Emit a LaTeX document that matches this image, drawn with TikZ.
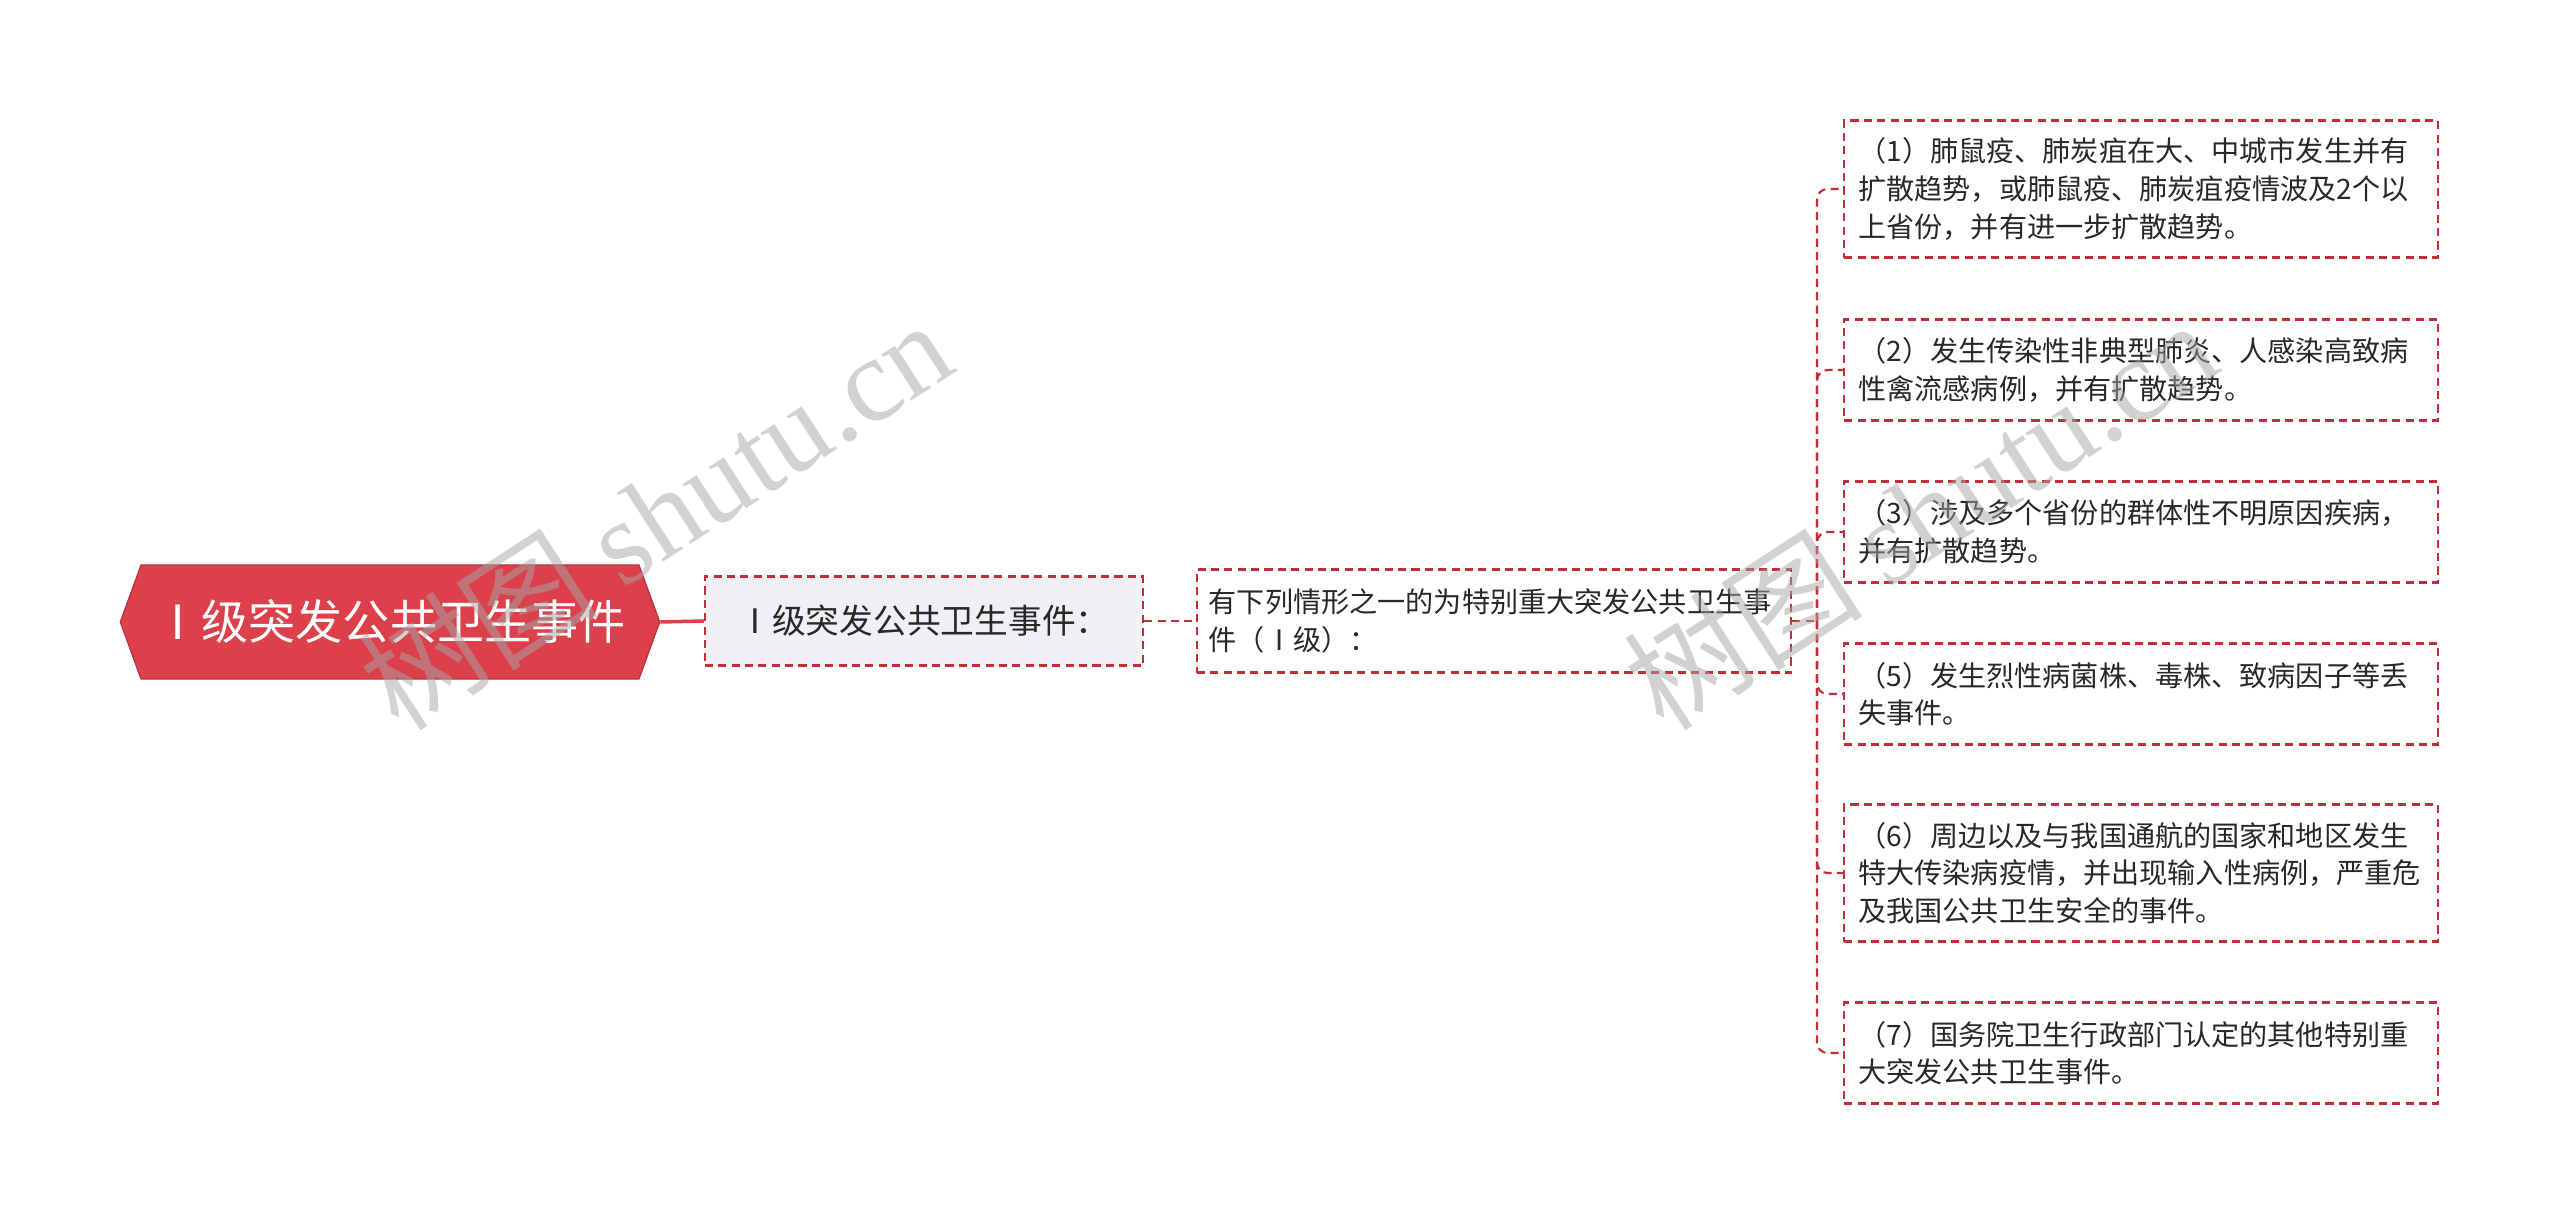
\documentclass[tikz,border=0pt]{standalone}
\usepackage{fontspec}
\setmainfont{Noto Sans CJK SC}
\newfontfamily\wmfont{Liberation Serif}
\usetikzlibrary{shapes.symbols}
\definecolor{rootred}{RGB}{220,65,75}
\definecolor{dashred}{RGB}{195,45,55}
\definecolor{subgray}{RGB}{238,240,244}
\definecolor{ink}{RGB}{40,40,40}
\definecolor{wmgray}{RGB}{165,165,165}
\tikzset{%
    dashy/.style={line width=0.6pt, dash pattern=on 2.3pt off 1.5pt},
    rootbox/.style={signal, signal to=west and east, signal pointer angle=140,
        fill=rootred, draw=rootred!85!black, text=white, inner sep=0pt,
        minimum width=5.39cm, minimum height=1.14cm,
        font=\fontsize{13.4pt}{16pt}\selectfont},
    subbox/.style={draw=dashred, dashy, fill=subgray, text=ink, inner sep=0pt,
        minimum width=4.38cm, minimum height=0.89cm,
        font=\fontsize{9.6pt}{12pt}\selectfont},
    condbox/.style={draw=dashred, dashy, fill=white, text=ink, align=left,
        text width=5.7cm, inner xsep=0.12cm, minimum height=1.03cm,
        font=\fontsize{8pt}{10.7pt}\selectfont},
    leafbox/.style={condbox, text width=5.65cm, inner xsep=0.14cm, minimum height=1.01cm},
    tall/.style={minimum height=1.37cm},
    lnk/.style={dashred, dashy},
    lnka/.style={rootred, line width=1pt},
    wm/.style={text=wmgray, opacity=0.5, rotate=33, inner sep=0pt,
        font=\fontsize{34pt}{34pt}\selectfont},
}
\begin{document}
\begin{tikzpicture}[x=0.01cm, y=-0.01cm]
    \useasboundingbox (0,0) rectangle (2560,1225);
    \draw node[rootbox] (root) at (390,622) {Ⅰ级突发公共卫生事件};
    \draw node[subbox] (sub) at (924,621) {Ⅰ级突发公共卫生事件：};
    \draw node[condbox] (cond) at (1494,621) {有下列情形之一的为特别重大突发公共卫生事\\件（Ⅰ级）：};
    \draw node[leafbox, tall] (l1) at (2141,189) {（1）肺鼠疫、肺炭疽在大、中城市发生并有\\扩散趋势，或肺鼠疫、肺炭疽疫情波及2个以\\上省份，并有进一步扩散趋势。};
    \draw node[leafbox] (l2) at (2141,370) {（2）发生传染性非典型肺炎、人感染高致病\\性禽流感病例，并有扩散趋势。};
    \draw node[leafbox] (l3) at (2141,532) {（3）涉及多个省份的群体性不明原因疾病，\\并有扩散趋势。};
    \draw node[leafbox] (l5) at (2141,694) {（5）发生烈性病菌株、毒株、致病因子等丢\\失事件。};
    \draw node[leafbox, tall] (l6) at (2141,873) {（6）周边以及与我国通航的国家和地区发生\\特大传染病疫情，并出现输入性病例，严重危\\及我国公共卫生安全的事件。};
    \draw node[leafbox] (l7) at (2141,1053) {（7）国务院卫生行政部门认定的其他特别重\\大突发公共卫生事件。};
    \coordinate (j) at (1817,621);
    \draw [lnka] (root.east) -- (sub.west);
    \draw [lnk] (sub.east) -- (cond.west);
    \draw [lnk] (cond.east) -- (j);
    \foreach \n in {l1,l2,l3,l5,l6,l7}
        \draw [lnk, rounded corners=3pt] (j) |- (\n.west);
    \draw node[wm] (wma) at (655,514) {树图 {\wmfont shutu.cn}};
    \draw node[wm] (wmb) at (1920,514) {树图 {\wmfont shutu.cn}};
\end{tikzpicture}
\end{document}
